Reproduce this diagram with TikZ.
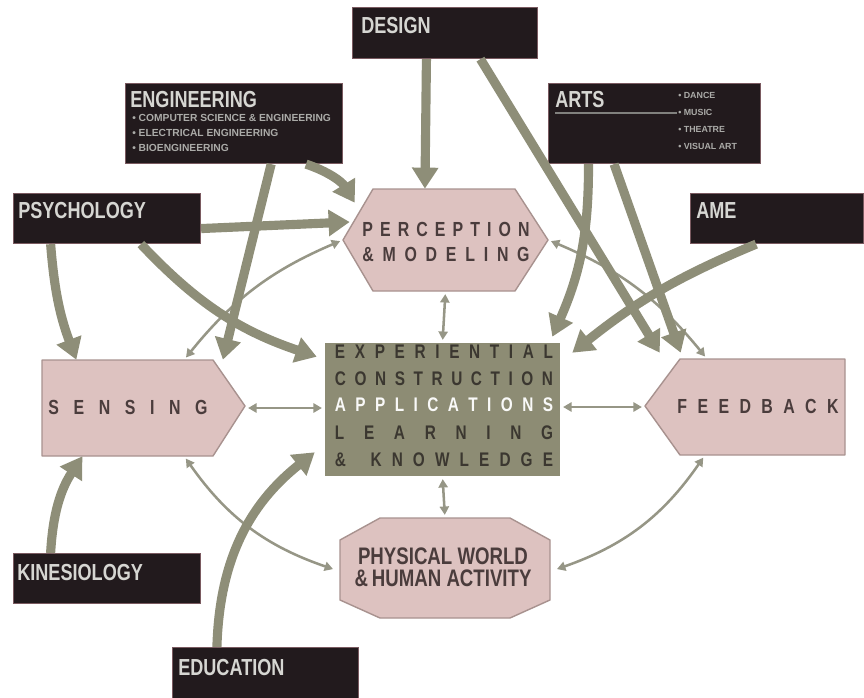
\documentclass[tikz,border=0pt]{standalone}
\usepackage{fontspec}
\setmainfont{Liberation Sans}
\newfontfamily\condfont{Liberation Sans}[FakeStretch=0.78]
\usetikzlibrary{arrows.meta, positioning, calc}

\definecolor{boxdark}{HTML}{221A1D}
\definecolor{boxedge}{HTML}{7A5A60}
\definecolor{boxtext}{HTML}{D6D6D2}
\definecolor{pinkfill}{HTML}{DDC2C0}
\definecolor{pinkedge}{HTML}{A8928F}
\definecolor{pinktext}{HTML}{4A3C3C}
\definecolor{olivebox}{HTML}{8D8C74}
\definecolor{olivetext}{HTML}{3B3730}
\definecolor{olivearrow}{HTML}{8E8E78}
\definecolor{thinline}{HTML}{969686}

\def\px{0.025cm}

% spread the letters of a word over a given width
\makeatletter
\newcommand\spreadword[2]{\makebox[#1][s]{\def\sp@gap{}\@tfor\sp@c:=#2\do{\sp@gap\sp@c\def\sp@gap{\hfill}}}}
\makeatother

\begin{document}
\begin{tikzpicture}[x=0.025cm, y=-0.025cm,
  darkbox/.style={fill=boxdark, draw=boxedge, line width=0.8pt, anchor=north west, inner sep=0pt},
  boxtitle/.style={anchor=north west, inner sep=0pt, text=boxtext, font=\condfont\bfseries\fontsize{16.5}{18}\selectfont},
  bullets/.style={anchor=north west, inner sep=0pt, align=left, text=boxtext!80!black, font=\bfseries\fontsize{7.3}{10.7}\selectfont},
  pinkshape/.style={fill=pinkfill, draw=pinkedge, line width=1pt, line join=round},
  spaced/.style={inner sep=0pt, text=pinktext, font=\condfont\bfseries\fontsize{14.5}{15}\selectfont},
  central/.style={inner sep=0pt, text=olivetext, font=\condfont\bfseries\fontsize{14}{15}\selectfont},
  thick arrow/.style={draw=olivearrow, line width=6.5pt, -{Triangle[length=15pt, width=18pt]}},
  thin arrow/.style={draw=thinline, line width=1.8pt, {Triangle[length=6pt, width=6.5pt]}-{Triangle[length=6pt, width=6.5pt]}, shorten <=2pt, shorten >=2pt}]

\useasboundingbox (0,0) rectangle (864,698);

% discipline boxes
\node[darkbox, minimum width=185*\px, minimum height=51*\px] (design) at (352,7) {};
\node[darkbox, minimum width=217*\px, minimum height=80*\px] (eng) at (125,83) {};
\node[darkbox, minimum width=212*\px, minimum height=80*\px] (arts) at (548,83) {};
\node[darkbox, minimum width=187*\px, minimum height=50*\px] (psych) at (13,193) {};
\node[darkbox, minimum width=173*\px, minimum height=50*\px] (ame) at (690,193) {};
\node[darkbox, minimum width=187*\px, minimum height=50*\px] (kines) at (13,553) {};
\node[darkbox, minimum width=186*\px, minimum height=51*\px] (edu) at (172,647) {};

\node[boxtitle] (designlbl) at ($(design.north west)+(9,10)$) {DESIGN};
\node[boxtitle] (englbl) at ($(eng.north west)+(5,8)$) {ENGINEERING};
\node[bullets] (engitems) at ($(eng.north west)+(7,31)$)
  {\textbullet\ COMPUTER SCIENCE \& ENGINEERING\\ \textbullet\ ELECTRICAL ENGINEERING\\ \textbullet\ BIOENGINEERING};
\node[boxtitle] (artslbl) at ($(arts.north west)+(7,8)$) {ARTS};
\draw[boxtext!60!black, line width=1.2pt] ($(arts.north west)+(7,30)$) -- ($(arts.north west)+(129,30)$);
\node[bullets, font=\bfseries\fontsize{6.3}{12}\selectfont] (artsitems) at ($(arts.north west)+(130,9)$)
  {\textbullet\ DANCE\\ \textbullet\ MUSIC\\ \textbullet\ THEATRE\\ \textbullet\ VISUAL ART};
\node[boxtitle] (psychlbl) at ($(psych.north west)+(5,9)$) {PSYCHOLOGY};
\node[boxtitle] (amelbl) at ($(ame.north west)+(6,9)$) {AME};
\node[boxtitle] (kineslbl) at ($(kines.north west)+(4,11)$) {KINESIOLOGY};
\node[boxtitle] (edulbl) at ($(edu.north west)+(6,12)$) {EDUCATION};

% pink shapes
\draw[pinkshape] (373,189) -- (515,189) -- (548,240) -- (515,291) -- (373,291) -- (343,240) -- cycle;
\draw[pinkshape] (42,360) -- (213,360) -- (245,406) -- (213,456) -- (42,456) -- cycle;
\draw[pinkshape] (645,406) -- (680,359) -- (845,359) -- (845,455) -- (680,455) -- cycle;
\draw[pinkshape] (380,518) -- (510,518) -- (550,540) -- (550,600) -- (510,618) -- (380,618) -- (340,600) -- (340,540) -- cycle;
\fill[olivebox] (325,343) rectangle (560,476);

\node[minimum width=205*\px, minimum height=102*\px, inner sep=0pt] (percep) at (445.5,240) {};
\node[spaced] (perceplbl1) at (446,229) {\spreadword{4.18cm}{PERCEPTION}};
\node[spaced] (perceplbl2) at (446,254) {\spreadword{4.18cm}{\&MODELING}};

\node[minimum width=203*\px, minimum height=96*\px, inner sep=0pt] (sens) at (143.5,408) {};
\node[spaced] (senslbl) at (128,407) {\spreadword{3.98cm}{SENSING}};

\node[minimum width=200*\px, minimum height=96*\px, inner sep=0pt] (feed) at (745,407) {};
\node[spaced] (feedlbl) at (758,406) {\spreadword{4.03cm}{FEEDBACK}};

\node[minimum width=210*\px, minimum height=100*\px, inner sep=0pt] (phys) at (445,568) {};
\node[inner sep=0pt, align=center, text=pinktext, font=\condfont\bfseries\fontsize{17}{15.5}\selectfont] (physlbl) at (443,567)
  {PHYSICAL WORLD\\\&\,HUMAN ACTIVITY};

\node[minimum width=235*\px, minimum height=133*\px, inner sep=0pt] (core) at (442.5,409.5) {};
\node[central] (core1) at (444,352) {\spreadword{5.45cm}{EXPERIENTIAL}};
\node[central] (core2) at (444,379) {\spreadword{5.45cm}{CONSTRUCTION}};
\node[central, text=white!95!olivebox] (core3) at (444,405) {\spreadword{5.45cm}{APPLICATIONS}};
\node[central] (core4) at (444,433) {\spreadword{5.45cm}{LEARNING}};
\node[central] (core5) at (444,460) {\spreadword{5.45cm}{\&~KNOWLEDGE}};

% thin links between the inner shapes
\draw[thin arrow] (percep.south) -- (core.north);
\draw[thin arrow] (core.south) -- (phys.north);
\draw[thin arrow] (sens.east) -- (sens.east -| core.west);
\draw[thin arrow] (core.east |- feed.west) -- (feed.west);
\draw[thin arrow] ($(sens.north west)!0.7!(sens.north east)$) to[bend left=14] (percep.west);
\draw[thin arrow] (percep.east) to[bend left=14] ($(feed.north west)!0.31!(feed.north east)$);
\draw[thin arrow] ($(sens.south west)!0.7!(sens.south east)$) to[bend right=18] ($(phys.west)+(-4,2)$);
\draw[thin arrow] ($(feed.south west)!0.3!(feed.south east)$) to[bend left=18] ($(phys.east)+(4,2)$);

% thick links from the disciplines
\draw[thick arrow] ($(design.south west)!0.4!(design.south east)$) -- ($(percep.north west)!0.4!(percep.north east)$);
\draw[thick arrow] ($(design.south west)!0.69!(design.south east)$) -- ($(feed.north west)+(15,-6)$);
\draw[thick arrow] ($(eng.south west)!0.83!(eng.south east)$) to[bend left=20] ($(percep.north west)+(12,14)$);
\draw[thick arrow] ($(eng.south west)!0.67!(eng.south east)$) -- ($(sens.north west)!0.89!(sens.north east)$);
\draw[thick arrow] ($(psych.east)+(0,10)$) -- ($(percep.west)+(7,-18)$);
\draw[thick arrow] ($(psych.south west)!0.68!(psych.south east)$) to[bend right=14] ($(core.north west)+(-8,14)$);
\draw[thick arrow] ($(psych.south west)!0.2!(psych.south east)$) to[bend right=8] ($(sens.north west)!0.17!(sens.north east)$);
\draw[thick arrow] ($(kines.north west)!0.2!(kines.north east)$) to[bend left=15] ($(sens.south west)!0.2!(sens.south east)$);
\draw[thick arrow] ($(edu.north west)!0.24!(edu.north east)$) to[bend left=25] ($(core.south west)+(-10,-24)$);
\draw[thick arrow] ($(arts.south west)!0.19!(arts.south east)$) to[bend left=12] ($(core.north east)+(-8,-6)$);
\draw[thick arrow] ($(arts.south west)!0.31!(arts.south east)$) -- ($(feed.north west)+(36,-6)$);
\draw[thick arrow] ($(ame.south west)!0.38!(ame.south east)$) to[bend right=8] ($(core.north east)+(12,10)$);
\end{tikzpicture}
\end{document}
